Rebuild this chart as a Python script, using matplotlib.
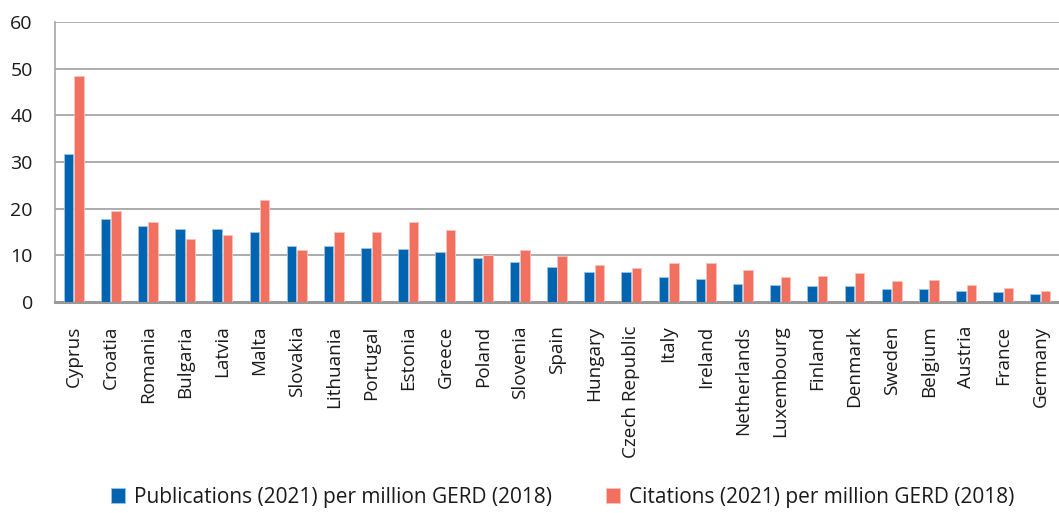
import matplotlib
matplotlib.use("Agg")
import matplotlib.pyplot as plt
import numpy as np

countries = ["Cyprus", "Croatia", "Romania", "Bulgaria", "Latvia", "Malta",
             "Slovakia", "Lithuania", "Portugal", "Estonia", "Greece", "Poland",
             "Slovenia", "Spain", "Hungary", "Czech Republic", "Italy", "Ireland",
             "Netherlands", "Luxembourg", "Finland", "Denmark", "Sweden",
             "Belgium", "Austria", "France", "Germany"]

publications = [31.7, 17.8, 16.3, 15.7, 15.7, 14.9, 12.0, 12.0, 11.6, 11.4,
                10.7, 9.5, 8.6, 7.5, 6.4, 6.4, 5.4, 4.9, 3.9, 3.6, 3.5, 3.5,
                2.8, 2.8, 2.4, 2.1, 1.7]
citations = [48.5, 19.4, 17.2, 13.6, 14.3, 21.9, 11.1, 15.1, 15.0, 17.2,
             15.5, 10.1, 11.2, 9.8, 8.0, 7.2, 8.3, 8.3, 6.8, 5.3, 5.5, 6.2,
             4.6, 4.7, 3.7, 3.1, 2.3]

yticks = [0, 10, 20, 30, 40, 50, 60]

pub_label = "Publications (2021) per million GERD (2018)"
cit_label = "Citations (2021) per million GERD (2018)"

BLUE = "#0064B0"
RED = "#F2705F"
GRID = "#A6A6A6"
TEXT = "#1a1a1a"

plt.rcParams["font.family"] = ["Open Sans", "DejaVu Sans"]

fig = plt.figure(figsize=(10.59, 5.13), dpi=100)
ax = fig.add_axes([55 / 1059, 211 / 513, 1004 / 1059, 280 / 513])

x = np.arange(len(countries))
w = 0.255
off = 0.14
ax.bar(x - off, publications, width=w, color=BLUE, edgecolor="#9cc3e6",
       linewidth=0.6, zorder=3, label=pub_label)
ax.bar(x + off, citations, width=w, color=RED, edgecolor="#f9c4bb",
       linewidth=0.6, zorder=3, label=cit_label)

ax.set_xlim(-0.5, len(countries) - 0.5)
ax.set_ylim(0, 60)
ax.set_yticks(yticks)
ax.yaxis.grid(True, color=GRID, linewidth=1.3, zorder=0)
ax.set_axisbelow(True)

ax.set_xticks(x)
ax.set_xticklabels(countries, rotation=90, fontsize=13.6, color=TEXT)
ax.tick_params(axis="x", length=0, pad=17)
ax.tick_params(axis="y", length=0, pad=16, labelsize=14, labelcolor=TEXT)

for s in ["top", "right"]:
    ax.spines[s].set_visible(False)
ax.spines["left"].set_color(GRID)
ax.spines["left"].set_linewidth(1.2)
ax.spines["bottom"].set_color("#999999")
ax.spines["bottom"].set_linewidth(2.2)

handles, labels = ax.get_legend_handles_labels()
fig.legend(handles, labels, loc="center", bbox_to_anchor=(0.531, 0.031),
           ncol=2, frameon=False, fontsize=15, handlelength=0.7,
           handleheight=0.7, handletextpad=0.4, columnspacing=2.6,
           labelcolor=TEXT)

fig.savefig("out.png", dpi=100)
